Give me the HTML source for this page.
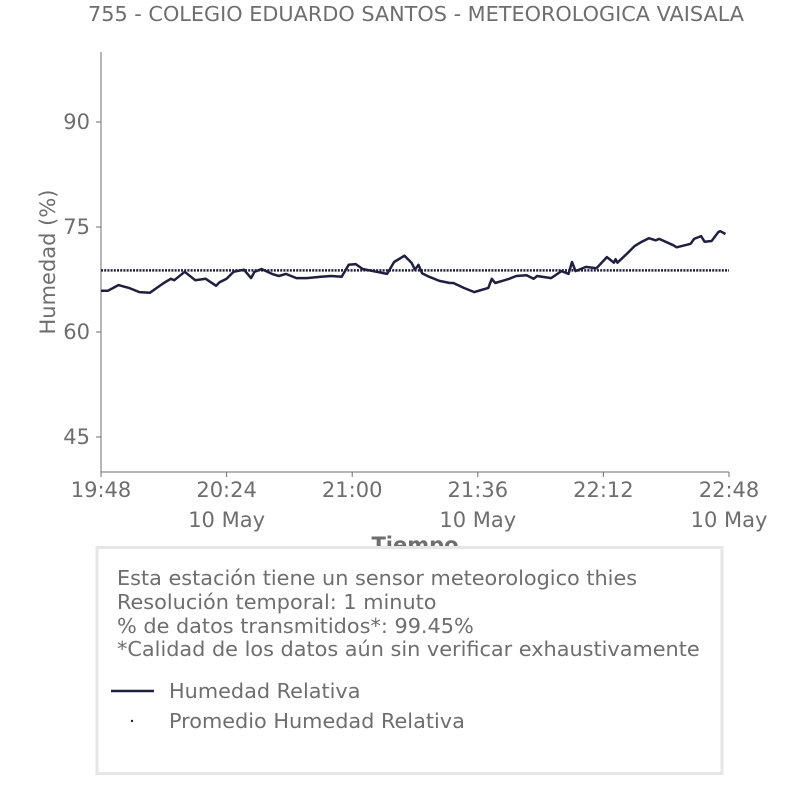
<!DOCTYPE html>
<html><head><meta charset="utf-8"><style>
body{margin:0;background:#fff}
svg{display:block;font-family:"DejaVu Sans","Liberation Sans",sans-serif}
</style></head><body>
<svg id="chart" width="806" height="806" viewBox="0 0 806 806">
<text x="416" y="21" text-anchor="middle" font-size="20.8" fill="#6e6e6e">755 - COLEGIO EDUARDO SANTOS - METEOROLOGICA VAISALA</text>
<g id="axes"></g>
<g id="plot"></g>
<text x="415" y="552" text-anchor="middle" font-size="21" font-weight="bold" fill="#6e6e6e">Tiempo</text>
<text transform="translate(55,262) rotate(-90)" text-anchor="middle" font-size="21" fill="#6e6e6e">Humedad (%)</text>
<rect x="97" y="547.5" width="625" height="226" fill="#fff" stroke="#e6e6e6" stroke-width="3"/>
<g font-size="20.8" fill="#6e6e6e">
<text x="117" y="585">Esta estación tiene un sensor meteorologico thies</text>
<text x="117" y="609">Resolución temporal: 1 minuto</text>
<text x="117" y="633">% de datos transmitidos*: 99.45%</text>
<text x="117" y="656">*Calidad de los datos aún sin verificar exhaustivamente</text>
</g>
<g>
<line x1="111" y1="691" x2="154" y2="691" stroke="#1f1f3f" stroke-width="2.5"/>
<text x="169" y="698" font-size="20.8" fill="#6e6e6e">Humedad Relativa</text>
<circle cx="132" cy="721" r="1.2" fill="#1f1f3f"/>
<text x="169" y="728" font-size="20.8" fill="#6e6e6e">Promedio Humedad Relativa</text>
</g>
</svg>
<script>
const minutes=[0,2,5,8,11,14,16,18,20,21,24,27,30,33,34,36,38,41,43,44,46,49,51,53,56,59,63,66,69,71,73,75,79,82,84,87,89,90,91,92,94,97,100,101,104,107,109,111,112,113,115,117,119,122,124,125,129,132,134,135,136,139,142,145,147,147.5,148,151,153,155,157,159,160,164,165,169,170,172,173,175,177,177.5,179];
const humidity=[65.9,65.9,66.7,66.3,65.7,65.6,66.3,67.0,67.6,67.4,68.6,67.4,67.6,66.6,67.1,67.6,68.6,68.9,67.7,68.6,69.0,68.3,68.0,68.3,67.7,67.7,67.9,68.0,67.9,69.6,69.7,69.0,68.6,68.3,70.0,70.9,69.9,68.9,69.6,68.4,67.9,67.3,67.0,67.0,66.3,65.7,66.0,66.3,67.6,67.0,67.3,67.6,68.0,68.1,67.6,68.0,67.7,68.7,68.3,70.0,68.7,69.3,69.1,70.7,69.9,70.4,69.9,71.3,72.3,72.9,73.4,73.1,73.3,72.4,72.1,72.6,73.3,73.7,72.9,73.0,74.3,74.4,74.0];
const meanValue=68.8;
const yTicks=[45,60,75,90];
const xTickMinutes=[0,36,72,108,144,180];
const xTickLabels=["19:48","20:24","21:00","21:36","22:12","22:48"];
const xDateLabels=["","10 May","","10 May","","10 May"];
const NS="http://www.w3.org/2000/svg";
const X0=101,X1=729,Y0=472,Y1=52;
const xs=m=>X0+(m/180)*(X1-X0);
const ys=v=>Y0-(v-40)/60*(Y0-Y1);
function mk(tag,attrs,parent){const e=document.createElementNS(NS,tag);for(const k in attrs)e.setAttribute(k,attrs[k]);parent.appendChild(e);return e;}
const axes=document.getElementById('axes'),plot=document.getElementById('plot');
let e=mk('line',{x1:X0,y1:Y1,x2:X0,y2:Y0,stroke:'#6e6e6e','stroke-width':1},axes);


e=mk('line',{x1:X0,y1:Y0,x2:X1,y2:Y0,stroke:'#6e6e6e','stroke-width':1},axes);


yTicks.forEach(v=>{
  const y=ys(v);
  let t=mk('line',{x1:X0-5,y1:y,x2:X0,y2:y,stroke:'#6e6e6e'},axes);
  
  
  let l=mk('text',{x:X0-11,y:y+7,'text-anchor':'end','font-size':21,fill:'#6e6e6e'},axes);
  l.textContent=v;
  
  
});
xTickMinutes.forEach((m,i)=>{
  const x=xs(m);
  let t=mk('line',{x1:x,y1:Y0,x2:x,y2:Y0+5,stroke:'#6e6e6e'},axes);
  
  
  let l=mk('text',{x:x,y:Y0+25,'text-anchor':'middle','font-size':21,fill:'#6e6e6e'},axes);
  l.textContent=xTickLabels[i];
  
  
  if(xDateLabels[i]){
    let d=mk('text',{x:x,y:Y0+55,'text-anchor':'middle','font-size':21,fill:'#6e6e6e'},axes);
    d.textContent=xDateLabels[i];
    
    
  }
});
const my=ys(meanValue);
let ml=mk('line',{x1:X0,y1:my,x2:X1,y2:my,stroke:'#1f1f3f','stroke-width':2.5,'stroke-dasharray':'2,1.2'},plot);


const pts=minutes.map((m,i)=>xs(m).toFixed(1)+','+ys(humidity[i]).toFixed(1)).join(' ');
let pl=mk('polyline',{points:pts,fill:'none',stroke:'#1f1f3f','stroke-width':2.5,'stroke-linejoin':'round'},plot);


</script>
</body></html>
